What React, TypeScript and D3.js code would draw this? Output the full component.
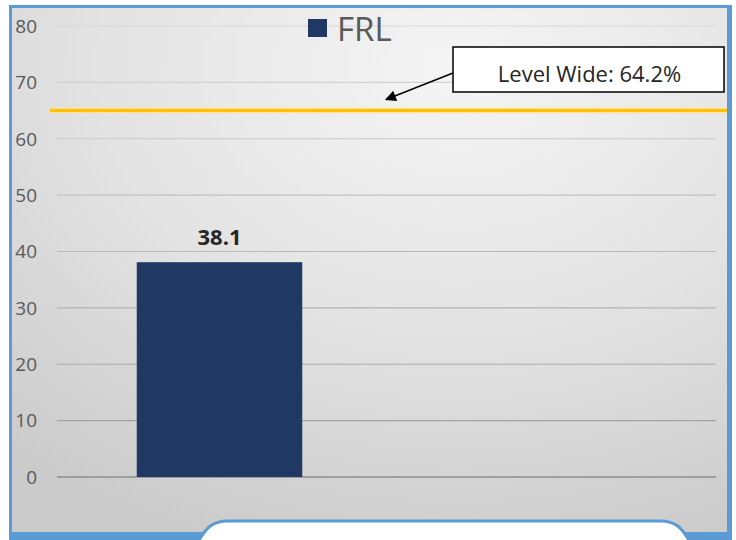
import { useMemo } from 'react';
import * as d3 from 'd3';

// chart data
const categories = ['FRL', ''];
const values: (number | null)[] = [38.1, null];
const yTicks = [0, 10, 20, 30, 40, 50, 60, 70, 80];
const seriesName = 'FRL';
const levelWideValue = 65;
const levelWideLabel = 'Level Wide: 64.2%';

const WIDTH = 736;
const HEIGHT = 540;
const BLUE = '#5B9BD5';
const BAR = '#203864';
const FONT = "'Open Sans', 'Noto Sans', sans-serif";

export default function App() {
  const x = useMemo(
    () => d3.scaleBand<string>().domain(categories).range([54, 716]).paddingInner(0.5).paddingOuter(0.25),
    []
  );
  const y = useMemo(() => d3.scaleLinear().domain([0, 80]).range([477, 26]), []);
  const gridColour = d3.scaleLinear<string>().domain([80, 0]).range(['#d8d8d8', '#9c9c9c']);

  const levelY = y(levelWideValue);
  const boxX = 453;
  const boxY = 47;
  const boxW = 271;
  const boxH = 45;
  const arrowTip: [number, number] = [386, levelY - 11];

  return (
    <svg
      width={WIDTH}
      height={HEIGHT}
      viewBox={`0 0 ${WIDTH} ${HEIGHT}`}
      style={{ position: 'absolute', left: 0, top: 0, display: 'block', background: '#fff' }}
    >
      <defs>
        <radialGradient id="bg" cx="0.62" cy="0.12" r="0.95" fx="0.62" fy="0.12">
          <stop offset="0" stopColor="#f5f5f5" />
          <stop offset="0.55" stopColor="#e2e2e2" />
          <stop offset="1" stopColor="#cbcbcb" />
        </radialGradient>
        <marker id="arrow" viewBox="0 0 10 10" refX="9" refY="5" markerWidth="15" markerHeight="11" orient="auto-start-reverse" markerUnits="userSpaceOnUse">
          <path d="M0,0 L10,5 L0,10 z" fill="#000" />
        </marker>
      </defs>

      {/* frame */}
      <rect x={9} y={5} width={723} height={535} fill={BLUE} />
      <rect x={12} y={8} width={715} height={524} fill="url(#bg)" />

      {/* gridlines */}
      {yTicks.map((t) => (
        <line
          key={t}
          x1={57}
          x2={716}
          y1={y(t)}
          y2={y(t)}
          stroke={t === 0 ? '#8e8e8e' : gridColour(t)}
          strokeWidth={t === 0 ? 1.5 : 1.2}
        />
      ))}

      {/* tick labels */}
      {yTicks.map((t) => (
        <text
          key={t}
          x={37}
          y={y(t)}
          dy="0.36em"
          textAnchor="end"
          fontFamily={FONT}
          fontSize={19}
          fill="#595959"
        >
          {t}
        </text>
      ))}

      {/* bars */}
      {categories.map((c, i) => {
        const v = values[i];
        if (v == null) return null;
        const bx = x(c) ?? 0;
        return (
          <g key={c}>
            <rect x={bx} y={y(v)} width={x.bandwidth()} height={y(0) - y(v)} fill={BAR} />
            <text
              x={bx + x.bandwidth() / 2}
              y={y(v) - 17}
              textAnchor="middle"
              fontFamily={FONT}
              fontWeight={700}
              fontSize={22}
              fill="#262626"
            >
              {v.toFixed(1)}
            </text>
          </g>
        );
      })}

      {/* level wide line */}
      <line x1={50} x2={727} y1={levelY} y2={levelY} stroke="#ffe08a" strokeWidth={6} opacity={0.7} />
      <line x1={50} x2={727} y1={levelY} y2={levelY} stroke="#FFC000" strokeWidth={3} />

      {/* legend */}
      <rect x={308} y={19} width={19} height={18} fill={BAR} />
      <text x={337} y={41} fontFamily={FONT} fontSize={33} fill="#595959">
        {seriesName}
      </text>

      {/* annotation */}
      <line
        x1={boxX}
        y1={boxY + 26}
        x2={arrowTip[0]}
        y2={arrowTip[1]}
        stroke="#000"
        strokeWidth={1.5}
        markerEnd="url(#arrow)"
      />
      <rect x={boxX} y={boxY} width={boxW} height={boxH} fill="#fff" stroke="#000" strokeWidth={1.5} />
      <text
        x={boxX + boxW / 2 + 1}
        y={boxY + 35}
        textAnchor="middle"
        fontFamily={FONT}
        fontSize={22}
        fill="#262626"
      >
        {levelWideLabel}
      </text>

      {/* bottom white tab */}
      <path
        d="M198,542 C206,528 212,521 228,521 L660,521 C676,521 682,528 690,542 Z"
        fill="#fff"
        stroke={BLUE}
        strokeWidth={3}
      />
    </svg>
  );
}
